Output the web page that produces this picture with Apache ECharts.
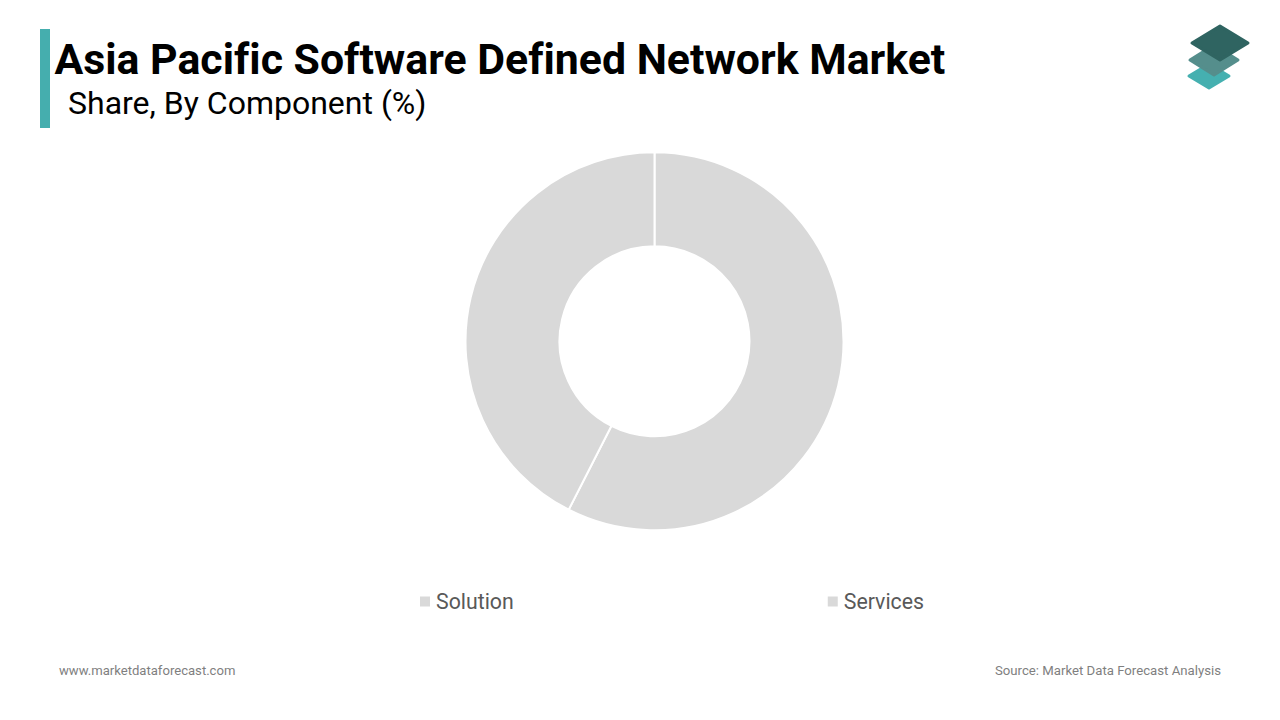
<!DOCTYPE html>
<html>
<head>
<meta charset="utf-8">
<title>Asia Pacific Software Defined Network Market</title>
<script src="https://cdn.jsdelivr.net/npm/echarts@6/dist/echarts.min.js"></script>
<style>
  html, body { margin: 0; padding: 0; background: #fff; }
  #chart { width: 1280px; height: 720px; }
  /* reference title has no fi ligature */
  #chart text { font-variant-ligatures: none !important; }
</style>
</head>
<body>
<div id="chart"></div>
<script>
const categories = ["Solution", "Services"];
const shares = [57.5, 42.5];
const sliceColor = "#d9d9d9";

const titleText = "Asia Pacific Software Defined Network Market";
const subtitleText = "Share, By Component (%)";
const siteText = "www.marketdataforecast.com";
const sourceText = "Source: Market Data Forecast Analysis";

let chart = echarts.init(document.getElementById("chart"), null, { renderer: "svg" });

// logo layers, bottom one first
function logoLayer(cx, cy, rx, ry, color) {
  return {
    type: "polygon",
    shape: { points: [[cx, cy - ry], [cx + rx, cy], [cx, cy + ry], [cx - rx, cy]] },
    style: { fill: color, stroke: color, lineWidth: 3, lineJoin: "round" }
  };
}

let option = {
  animation: false,
  backgroundColor: "#fff",
  textStyle: { fontFamily: "Roboto" },
  legend: {
    left: 420,
    top: 591,
    padding: 0,
    itemWidth: 10,
    itemHeight: 10,
    itemGap: 314,
    icon: "path://M0,0L10,0L10,10L0,10Z",
    itemStyle: { borderWidth: 0 },
    selectedMode: false,
    data: categories,
    textStyle: { fontFamily: "Roboto", fontSize: 21.3, color: "#595959", padding: [0, 0, 0, 1] }
  },
  series: [
    {
      type: "pie",
      center: [654.5, 341.3],
      radius: [95, 189],
      startAngle: 90,
      clockwise: true,
      label: { show: false },
      labelLine: { show: false },
      emphasis: { disabled: true },
      itemStyle: { color: sliceColor, borderColor: "#fff", borderWidth: 2 },
      data: categories.map((name, i) => ({ name: name, value: shares[i] }))
    }
  ],
  graphic: [
    { type: "rect", shape: { x: 40, y: 29, width: 10, height: 99 }, style: { fill: "#45aeae" } },
    { type: "text", x: 54.5, y: 37, style: { text: titleText, font: "bold 42.8px Roboto", fill: "#000" } },
    { type: "text", x: 68, y: 87, style: { text: subtitleText, font: "32px Roboto", fill: "#000" } },
    { type: "text", x: 59, y: 663.6, style: { text: siteText, font: "13.1px Roboto", fill: "#7f7f7f" } },
    { type: "text", x: 1221, y: 663.6, style: { text: sourceText, font: "13.2px Roboto", fill: "#7f7f7f", align: "right" } },
    logoLayer(1209, 76, 20, 12, "#45b0b0"),
    logoLayer(1214, 60, 24, 15, "#558e8c"),
    logoLayer(1220, 43, 28, 17, "#2f6461")
  ]
};

chart.setOption(option);
</script>
</body>
</html>
